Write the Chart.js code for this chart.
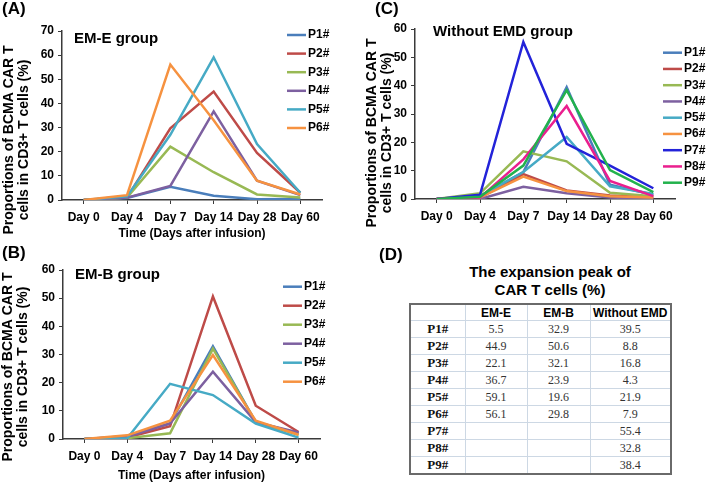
<!DOCTYPE html>
<html>
<head>
<meta charset="utf-8">
<script src="https://cdn.jsdelivr.net/npm/chart.js@4.4.1/dist/chart.umd.min.js"></script>
<style>
  body { margin: 0; background: #fff; }
  #wrap { position: relative; width: 709px; height: 484px; overflow: hidden; background: #fff; }
  canvas { position: absolute; }
  .lab { position: absolute; font: bold 17px "Liberation Sans", Arial, sans-serif; line-height: 17px; color: #000; z-index: 2; }
  .ttl { position: absolute; left: 430px; width: 240px; text-align: center; font: bold 15px "Liberation Sans", Arial, sans-serif; line-height: 18px; color: #000; }
  #peak { position: absolute; left: 409px; top: 303px; border-collapse: collapse; border: 2px solid #6a6a6a; table-layout: fixed; }
  #peak td, #peak th { border: 1px solid #cdd8e4; padding: 0; text-align: center; height: 14.6px; line-height: 14px; }
  #peak th { font: bold 12px "Liberation Sans", Arial, sans-serif; color: #000; height: 15px; }
  #peak td { font: 12px "Liberation Serif", "Times New Roman", serif; color: #333; }
  #peak td.rh { font: bold 13px "Liberation Serif", "Times New Roman", serif; color: #111; }
</style>
</head>
<body>
<div id="wrap">
  <div class="lab" style="left:2px;top:0px">(A)</div>
  <div class="lab" style="left:2px;top:244px">(B)</div>
  <div class="lab" style="left:375px;top:0px">(C)</div>
  <div class="lab" style="left:379px;top:246px">(D)</div>

  <canvas id="chartA" width="355" height="242" style="left:0;top:0"></canvas>
  <canvas id="chartB" width="355" height="242" style="left:0;top:242px"></canvas>
  <canvas id="chartC" width="351" height="228" style="left:358px;top:0"></canvas>

  <div class="ttl" style="top:263px">The expansion peak of<br>CAR T cells (%)</div>
  <table id="peak">
    <colgroup><col style="width:55px"><col style="width:62px"><col style="width:63px"><col style="width:81px"></colgroup>
    <thead><tr><th></th><th>EM-E</th><th>EM-B</th><th>Without EMD</th></tr></thead>
    <tbody></tbody>
  </table>
</div>

<script>
// Données
const days = ['Day 0', 'Day 4', 'Day 7', 'Day 14', 'Day 28', 'Day 60'];
const patients = ['P1#', 'P2#', 'P3#', 'P4#', 'P5#', 'P6#', 'P7#', 'P8#', 'P9#'];
const yTitle = ['Proportions of BCMA CAR T', 'cells in CD3+ T cells (%)'];
const xTitle = 'Time (Days after infusion)';

// (A) EM-E group, une ligne par patient
const emeValues = [
    [0, 0.8, 5.5, 1.8, 0.3, 0.4],
    [0, 1, 29.7, 44.9, 19.5, 3],
    [0, 1, 22.1, 11.5, 2.3, 1],
    [0, 1, 5.8, 36.7, 8, 2],
    [0, 1.5, 27, 59.1, 23.2, 3],
    [0, 2, 56.1, 33, 8, 2.3],
];
const emeYMax = 70;

// (B) EM-B group
const embValues = [
    [0, 1, 5.5, 32.9, 6, 2],
    [0, 0.5, 4.5, 50.6, 11.8, 2.5],
    [0, 0.3, 2, 32.1, 6, 1.5],
    [0, 0.8, 5.5, 23.9, 6, 2.3],
    [0, 0.3, 19.6, 15.6, 5.5, 0.5],
    [0, 1.3, 6.5, 29.8, 6.5, 1.5],
];
const embYMax = 60;

// (C) Without EMD group
const noEmdValues = [
    [0, 1, 9.5, 39.5, 5, 1.5],
    [0, 0.5, 8.8, 3, 1.2, 0.5],
    [0, 2, 16.8, 13.3, 2.2, 1],
    [0, 0, 4.3, 2, 0.5, 0.2],
    [0, 1, 9.5, 21.9, 4.5, 1.8],
    [0, 0.5, 7.9, 2.8, 1, 0.5],
    [0, 1.5, 55.4, 19.5, 11.8, 3.8],
    [0, 0.5, 14, 32.8, 6.4, 1],
    [0, 0.8, 11.8, 38.4, 10.2, 2.4],
];
const noEmdYMax = 60;

// (D) tableau des pics
const peakEME = ['5.5', '44.9', '22.1', '36.7', '59.1', '56.1', '', '', ''];
const peakEMB = ['32.9', '50.6', '32.1', '23.9', '19.6', '29.8', '', '', ''];
const peakNoEMD = ['39.5', '8.8', '16.8', '4.3', '21.9', '7.9', '55.4', '32.8', '38.4'];

const lineColors = ['#4a7ebb', '#be4b48', '#98b954', '#7d60a0', '#46aac5', '#f69240', '#2323d9', '#ea1f8e', '#22b24c'];
const axisColor = '#3a3a3a';
const fontFamily = '"Liberation Sans", Arial, sans-serif';

Chart.defaults.font.family = fontFamily;

// légende, titre du groupe et titre de l'axe Y dessinés à la main (comme dans Excel)
const panelDecor = {
    id: 'panelDecor',
    afterDraw(chart, args, opts) {
        const ctx = chart.ctx;
        ctx.save();
        ctx.fillStyle = '#000';
        ctx.textBaseline = 'middle';
        ctx.textAlign = 'left';
        ctx.font = 'bold 15px ' + fontFamily;
        ctx.fillText(opts.group, opts.groupX, opts.groupY);

        ctx.font = 'bold 12px ' + fontFamily;
        chart.data.datasets.forEach((ds, i) => {
            const y = opts.legendY + i * opts.legendStep;
            ctx.strokeStyle = ds.borderColor;
            ctx.lineWidth = 2.5;
            ctx.beginPath();
            ctx.moveTo(opts.legendX, y);
            ctx.lineTo(opts.legendX + 19, y);
            ctx.stroke();
            ctx.fillText(ds.label, opts.legendX + 21, y);
        });

        ctx.font = 'bold 14px ' + fontFamily;
        ctx.textAlign = 'center';
        ctx.translate(opts.titleX, opts.titleY);
        ctx.rotate(-Math.PI / 2);
        yTitle.forEach((line, k) => ctx.fillText(line, 0, k * 15.5));
        ctx.restore();
    }
};

function makeScales(yMax, withXTitle, xHeight, yWidth) {
    const grid = { drawOnChartArea: false, color: axisColor, tickLength: 4, lineWidth: 1 };
    const border = { color: axisColor, width: 1.5 };
    return {
        x: {
            type: 'category',
            offset: true,
            grid: grid,
            border: border,
            ticks: { color: '#000', font: { size: 12, weight: 'bold' }, padding: 6, maxRotation: 0, autoSkip: false },
            title: { display: withXTitle, text: xTitle, color: '#000', font: { size: 12, weight: 'bold' }, padding: { top: 0, bottom: 1 } },
            afterFit: s => { s.height = xHeight; },
        },
        y: {
            min: 0,
            max: yMax,
            grid: grid,
            border: border,
            ticks: { stepSize: 10, color: '#000', font: { size: 12, weight: 'bold' }, padding: 4 },
            afterFit: s => { s.width = yWidth; },
        },
    };
}

function makePanel(id, values, yMax, layout, decor) {
    const datasets = values.map((row, i) => ({
        label: patients[i],
        data: row,
        borderColor: lineColors[i],
        backgroundColor: lineColors[i],
        borderWidth: 2.5,
        pointRadius: 0,
        tension: 0,
        order: -i,
    }));
    return new Chart(document.getElementById(id), {
        type: 'line',
        data: { labels: days, datasets: datasets },
        options: {
            responsive: false,
            animation: false,
            layout: { padding: layout.padding },
            plugins: { legend: { display: false }, tooltip: { enabled: false }, panelDecor: decor },
            scales: makeScales(yMax, layout.xTitle, layout.xHeight, layout.yWidth),
        },
        plugins: [panelDecor],
    });
}

makePanel('chartA', emeValues, emeYMax,
    { padding: { top: 31, right: 33, left: 0, bottom: 0 }, xTitle: true, xHeight: 42, yWidth: 62 },
    { group: 'EM-E group', groupX: 74, groupY: 39, legendX: 287, legendY: 35, legendStep: 18.6, titleX: 9, titleY: 140 });

makePanel('chartB', embValues, embYMax,
    { padding: { top: 28, right: 35, left: 0, bottom: 0 }, xTitle: true, xHeight: 45, yWidth: 63 },
    { group: 'EM-B group', groupX: 75, groupY: 33, legendX: 283, legendY: 44.7, legendStep: 19, titleX: 8, titleY: 125 });

makePanel('chartC', noEmdValues, noEmdYMax,
    { padding: { top: 29, right: 34, left: 0, bottom: 0 }, xTitle: false, xHeight: 29, yWidth: 57 },
    { group: 'Without EMD group', groupX: 75, groupY: 32, legendX: 305, legendY: 52.7, legendStep: 16.25, titleX: 14, titleY: 133 });

// tableau (D)
const tbody = document.querySelector('#peak tbody');
patients.forEach((p, i) => {
    const tr = document.createElement('tr');
    [p, peakEME[i], peakEMB[i], peakNoEMD[i]].forEach((v, k) => {
        const td = document.createElement('td');
        if (k === 0) td.className = 'rh';
        td.textContent = v;
        tr.appendChild(td);
    });
    tbody.appendChild(tr);
});
</script>
</body>
</html>
